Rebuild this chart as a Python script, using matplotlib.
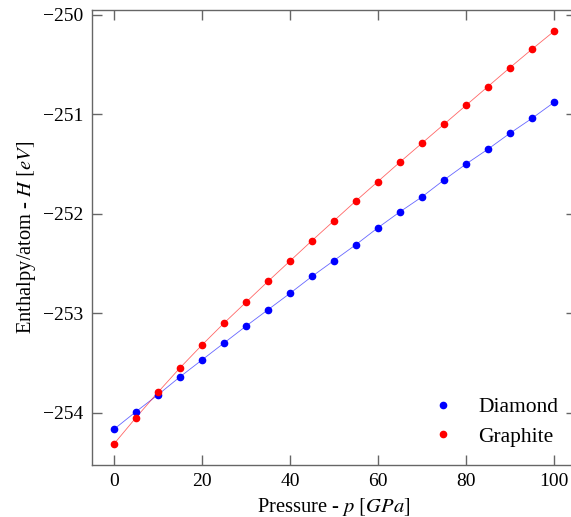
import matplotlib
matplotlib.use("Agg")
import matplotlib.pyplot as plt

# ── 数据 ──────────────────────────────────────────────────────────────────────
pressure = [0, 5, 10, 15, 20, 25, 30, 35, 40, 45, 50,
            55, 60, 65, 70, 75, 80, 85, 90, 95, 100]
diamond = [-254.167, -253.99, -253.82, -253.64, -253.47, -253.30, -253.13,
           -252.965, -252.80, -252.63, -252.47, -252.31, -252.14, -251.98,
           -251.83, -251.66, -251.50, -251.35, -251.19, -251.04, -250.88]
graphite = [-254.315, -254.05, -253.795, -253.55, -253.32, -253.10, -252.89,
            -252.68, -252.475, -252.27, -252.07, -251.87, -251.675, -251.48,
            -251.29, -251.10, -250.91, -250.72, -250.53, -250.345, -250.165]

# ── 样式 ──────────────────────────────────────────────────────────────────────
plt.rcParams["font.family"] = ["Liberation Serif", "DejaVu Serif"]
plt.rcParams["mathtext.fontset"] = "stix"
plt.rcParams["font.size"] = 14

fig = plt.figure(figsize=(5.71, 5.17), dpi=100)
# 右边框在画布外（与原图一致，被裁掉）
ax = fig.add_axes([0.161, 0.1006, 0.8476, 0.8795])

ax.plot(pressure, diamond, color="blue", lw=0.6, alpha=0.6)
ax.plot(pressure, graphite, color="red", lw=0.6, alpha=0.6)
ax.plot(pressure, diamond, "o", color="blue", ms=4.5, lw=0, label="Diamond")
ax.plot(pressure, graphite, "o", color="red", ms=4.5, lw=0, label="Graphite")

ax.set_xlim(-5, 105)
ax.set_ylim(-254.526, -249.953)
ax.set_xticks([0, 20, 40, 60, 80, 100])
ax.set_yticks([-254, -253, -252, -251, -250])

for spine in ax.spines.values():
    spine.set_edgecolor("#666666")
    spine.set_linewidth(1.0)
ax.tick_params(direction="in", top=True, right=True, color="#666666",
               length=7, width=1.0, labelsize=14, pad=6)

ax.set_xlabel(r"Pressure - $p$ $[GPa]$", fontsize=14.8)
ax.set_ylabel(r"Enthalpy/atom - $H$ $[eV]$", fontsize=14.8)

ax.legend(loc="lower right", frameon=False, fontsize=15.5, handletextpad=0.63,
          labelspacing=0.45, borderaxespad=0, bbox_to_anchor=(0.982, 0.021))

fig.savefig("out.png", dpi=100)
